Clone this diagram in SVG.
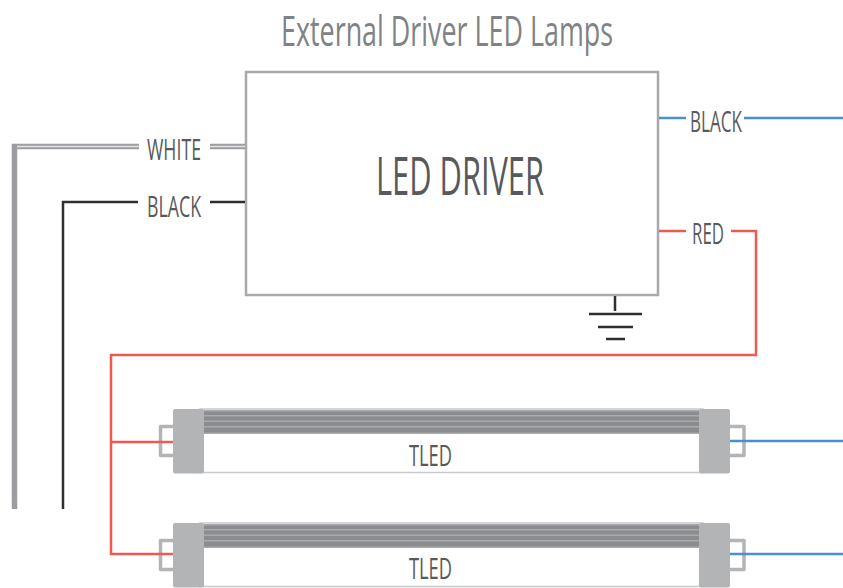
<svg xmlns="http://www.w3.org/2000/svg" width="843" height="588" viewBox="0 0 843 588">
<style>
text{font-family:"Open Sans","Liberation Sans",sans-serif;fill:#58595b;text-anchor:start}
.lbl{font-size:29px}
.w{fill:none;stroke-width:2.5;stroke-linejoin:miter}
.red{stroke:#ef5a50}.blue{stroke:#4a90d0}.blk{stroke:#2f2f2f}
.cap{fill:#b3b4b6}
.stripe{fill:#8b8c8f}
.stripe2{fill:#a9aaac}
.pin{fill:none;stroke:#b3b4b6;stroke-width:3.5;stroke-linejoin:round}
.edge{fill:#fff;stroke:#c8c9cb;stroke-width:1.5}
</style>
<defs>
<g id="tube">
<rect class="edge" x="200" y="0" width="503" height="63.500"/>
<rect class="stripe" x="204" y="1" width="495" height="24"/>
<rect class="stripe2" x="204" y="1" width="495" height="1.500"/>
<rect class="stripe2" x="204" y="6" width="495" height="1.500"/>
<rect class="stripe2" x="204" y="11.500" width="495" height="1.500"/>
<rect class="stripe2" x="204" y="17" width="495" height="1.500"/>
<rect class="stripe2" x="204" y="23.500" width="495" height="1.500"/>
<rect class="cap" x="173" y="0" width="31" height="64.500" rx="2"/>
<rect class="cap" x="699" y="0" width="31" height="64.500" rx="2"/>
<path class="pin" d="M173 17.500H160.500V46.500H173"/>
<path class="pin" d="M730 17.500H744V46.500H730"/>
</g>
</defs>
<text id="title" x="281" y="46" font-size="42" textLength="332" lengthAdjust="spacingAndGlyphs" style="fill:#808285">External Driver LED Lamps</text>
<g id="driver">
<rect x="246" y="72" width="412" height="223" fill="none" stroke="#a7a9ac" stroke-width="2.500"/>
<text x="376" y="195" font-size="53" textLength="168" lengthAdjust="spacingAndGlyphs">LED DRIVER</text>
</g>
<g id="ground" fill="none" stroke="#2f2f2f" stroke-width="2.500">
<path d="M615 296V311M589 314H642M598 327H633M606 339H625"/>
</g>
<g id="label-white"><text class="lbl" x="147" y="160" textLength="54" lengthAdjust="spacingAndGlyphs">WHITE</text></g>
<g id="label-black-in"><text class="lbl" x="147" y="217" textLength="54" lengthAdjust="spacingAndGlyphs">BLACK</text></g>
<g id="label-black-out"><text class="lbl" x="690" y="132" textLength="52" lengthAdjust="spacingAndGlyphs">BLACK</text></g>
<g id="label-red"><text class="lbl" x="692" y="244" textLength="32" lengthAdjust="spacingAndGlyphs">RED</text></g>
<g id="tled-1">
<use href="#tube" y="409"/>
<text class="lbl" x="409" y="466" textLength="43" lengthAdjust="spacingAndGlyphs">TLED</text>
</g>
<g id="tled-2">
<use href="#tube" y="523"/>
<text class="lbl" x="409" y="579" textLength="43" lengthAdjust="spacingAndGlyphs">TLED</text>
</g>
<g id="connectors">
<path d="M14.500 509V146.500H139" fill="none" stroke="#9c9da0" stroke-width="5.500"/>
<path d="M17 146.500H139" fill="none" stroke="#e4e4e5" stroke-width="1.500"/>
<path d="M210 146.500H245" fill="none" stroke="#9c9da0" stroke-width="5.500"/>
<path d="M210 146.500H245" fill="none" stroke="#e4e4e5" stroke-width="1.500"/>
<path class="w blk" d="M138 202H63V509"/>
<path class="w blk" d="M210 202H245"/>
<path class="w blue" d="M659 118H686"/>
<path class="w blue" d="M744 118H843"/>
<path class="w red" d="M659 231H686"/>
<path class="w red" d="M731 231H756V355H111V554H173"/>
<path class="w red" d="M111 442H173"/>
<path class="w blue" d="M730 441H843"/>
<path class="w blue" d="M730 554H843"/>
</g>
</svg>
